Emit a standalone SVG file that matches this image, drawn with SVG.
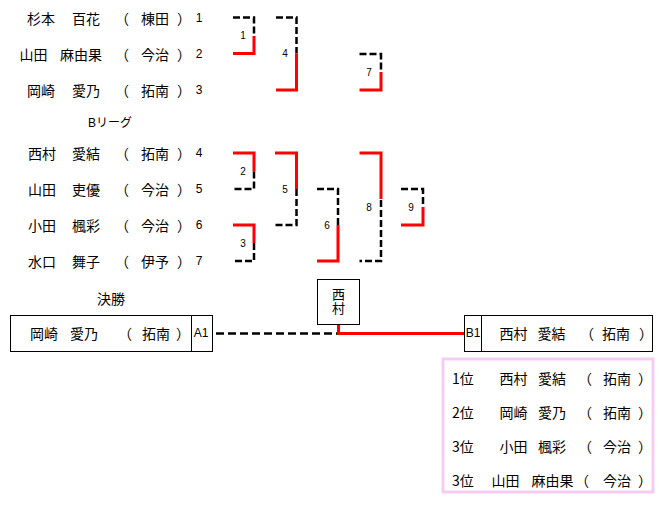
<svg xmlns="http://www.w3.org/2000/svg" width="664" height="505" viewBox="0 0 664 505">
<style>
text{font-family:"Noto Sans CJK JP","Liberation Sans",sans-serif;font-size:14px;fill:#000;dominant-baseline:central;text-anchor:middle}
.n{font-family:"Liberation Sans","Noto Sans CJK JP",sans-serif;font-size:12px}
.s{font-family:"Liberation Sans",sans-serif;font-size:10px}
.st{text-anchor:start}
.v{font-size:13px;writing-mode:vertical-rl;letter-spacing:1px}
.d{fill:none;stroke:#000;stroke-width:2.5;stroke-dasharray:7 3}
.df{fill:none;stroke:#000;stroke-width:2.5;stroke-dasharray:8 4}
.r{fill:none;stroke:#ff0000;stroke-width:3}
.box{fill:#fff;stroke:#000;stroke-width:1}
</style>
<rect width="664" height="505" fill="#fff"/>
<g id="players-a">
<g id="p1"><text x="41" y="18">杉本</text><text x="86" y="18">百花</text><text x="122" y="18">（</text><text x="155" y="18">棟田</text><text x="184" y="18">）</text><text class="n" x="199" y="18">1</text></g>
<g id="p2"><text x="33.5" y="54">山田</text><text x="81" y="54">麻由果</text><text x="122" y="54">（</text><text x="155" y="54">今治</text><text x="184" y="54">）</text><text class="n" x="199" y="54">2</text></g>
<g id="p3"><text x="41" y="90">岡崎</text><text x="86" y="90">愛乃</text><text x="122" y="90">（</text><text x="155" y="90">拓南</text><text x="184" y="90">）</text><text class="n" x="199" y="90">3</text></g>
</g>
<g id="league-b-title"><text class="n" x="110" y="123">Bリーグ</text></g>
<g id="players-b">
<g id="p4"><text x="42" y="153">西村</text><text x="86" y="153">愛結</text><text x="122" y="153">（</text><text x="155" y="153">拓南</text><text x="184" y="153">）</text><text class="n" x="199" y="153">4</text></g>
<g id="p5"><text x="42" y="189">山田</text><text x="86" y="189">吏優</text><text x="122" y="189">（</text><text x="155" y="189">今治</text><text x="184" y="189">）</text><text class="n" x="199" y="189">5</text></g>
<g id="p6"><text x="42" y="225">小田</text><text x="86" y="225">楓彩</text><text x="122" y="225">（</text><text x="155" y="225">今治</text><text x="184" y="225">）</text><text class="n" x="199" y="225">6</text></g>
<g id="p7"><text x="42" y="261">水口</text><text x="86" y="261">舞子</text><text x="122" y="261">（</text><text x="155" y="261">伊予</text><text x="184" y="261">）</text><text class="n" x="199" y="261">7</text></g>
</g>
<g id="connectors">
<g id="m1"><polyline class="d" points="233,17.5 254,17.5 254,36"/><polyline class="r" points="254,36 254,53.5 233,53.5"/></g>
<g id="m4"><polyline class="d" points="276,17.5 296.5,17.5 296.5,53.5"/><polyline class="r" points="296.5,53.5 296.5,90 276,90"/></g>
<g id="m7"><polyline class="d" points="359.5,54 381,54 381,72"/><polyline class="r" points="381,72 381,90 359.5,90"/></g>
<g id="m2"><polyline class="r" points="233,153 254,153 254,171.5"/><polyline class="d" points="254,171.5 254,189 233,189"/></g>
<g id="m3"><polyline class="r" points="233,225 254,225 254,243"/><polyline class="d" points="254,243 254,261 233,261"/></g>
<g id="m5"><polyline class="r" points="275,153 296.5,153 296.5,189"/><polyline class="d" points="296.5,189 296.5,225 275,225"/></g>
<g id="m6"><polyline class="d" points="317,189 338,189 338,225"/><polyline class="r" points="338,225 338,261 317,261"/></g>
<g id="m8"><polyline class="r" points="359.5,153 381,153 381,199"/><polyline class="d" points="381,200 381,261 359.5,261"/></g>
<g id="m9"><polyline class="d" points="401,189 423,189 423,207"/><polyline class="r" points="423,207 423,225 401,225"/></g>
<g id="final-lines"><line class="df" x1="216" y1="333.5" x2="337" y2="333.5"/><polyline class="r" points="338.5,324 338.5,333.5 464,333.5"/></g>
</g>
<g id="match-labels">
<text class="s" x="243" y="35">1</text>
<text class="s" x="285" y="53.5">4</text>
<text class="s" x="369" y="72">7</text>
<text class="s" x="243" y="171">2</text>
<text class="s" x="243" y="243">3</text>
<text class="s" x="285" y="189">5</text>
<text class="s" x="327" y="225">6</text>
<text class="s" x="369" y="207">8</text>
<text class="s" x="411" y="207">9</text>
</g>
<g id="final-title"><text x="111" y="298">決勝</text></g>
<g id="final-a1">
<rect class="box" x="10.5" y="315.5" width="202" height="36"/>
<line x1="191.5" y1="315.5" x2="191.5" y2="351.5" stroke="#000" stroke-width="1"/>
<text x="44" y="333">岡崎</text><text x="84" y="333">愛乃</text><text x="125" y="333">（</text><text x="156" y="333">拓南</text><text x="183" y="333">）</text>
<text class="n" x="201" y="333">A1</text>
</g>
<g id="winner">
<rect class="box" x="317.5" y="279.5" width="42" height="45"/>
<text class="v" x="338.5" y="302">西村</text>
</g>
<g id="final-b1">
<rect class="box" x="464.5" y="315.5" width="188" height="36"/>
<line x1="481.5" y1="315.5" x2="481.5" y2="351.5" stroke="#000" stroke-width="1"/>
<text class="n" x="473" y="333">B1</text>
<text x="513.5" y="333">西村</text><text x="551.5" y="333">愛結</text><text x="587" y="333">（</text><text x="616" y="333">拓南</text><text x="646" y="333">）</text>
</g>
<g id="results">
<rect x="443" y="359" width="210" height="133" fill="#fff" stroke="#f6cbf4" stroke-width="3"/>
<g id="r1"><text class="st" x="452" y="378">1位</text><text x="513.5" y="378">西村</text><text x="552" y="378">愛結</text><text x="585" y="378">（</text><text x="617" y="378">拓南</text><text x="645" y="378">）</text></g>
<g id="r2"><text class="st" x="452" y="411.5">2位</text><text x="513.5" y="411.5">岡崎</text><text x="552" y="411.5">愛乃</text><text x="585" y="411.5">（</text><text x="617" y="411.5">拓南</text><text x="645" y="411.5">）</text></g>
<g id="r3"><text class="st" x="452" y="445.5">3位</text><text x="513.5" y="445.5">小田</text><text x="552" y="445.5">楓彩</text><text x="585" y="445.5">（</text><text x="617" y="445.5">今治</text><text x="645" y="445.5">）</text></g>
<g id="r4"><text class="st" x="452" y="479.5">3位</text><text x="505.5" y="479.5">山田</text><text x="552.5" y="479.5">麻由果</text><text x="582" y="479.5">（</text><text x="617" y="479.5">今治</text><text x="645" y="479.5">）</text></g>
</g>
</svg>
